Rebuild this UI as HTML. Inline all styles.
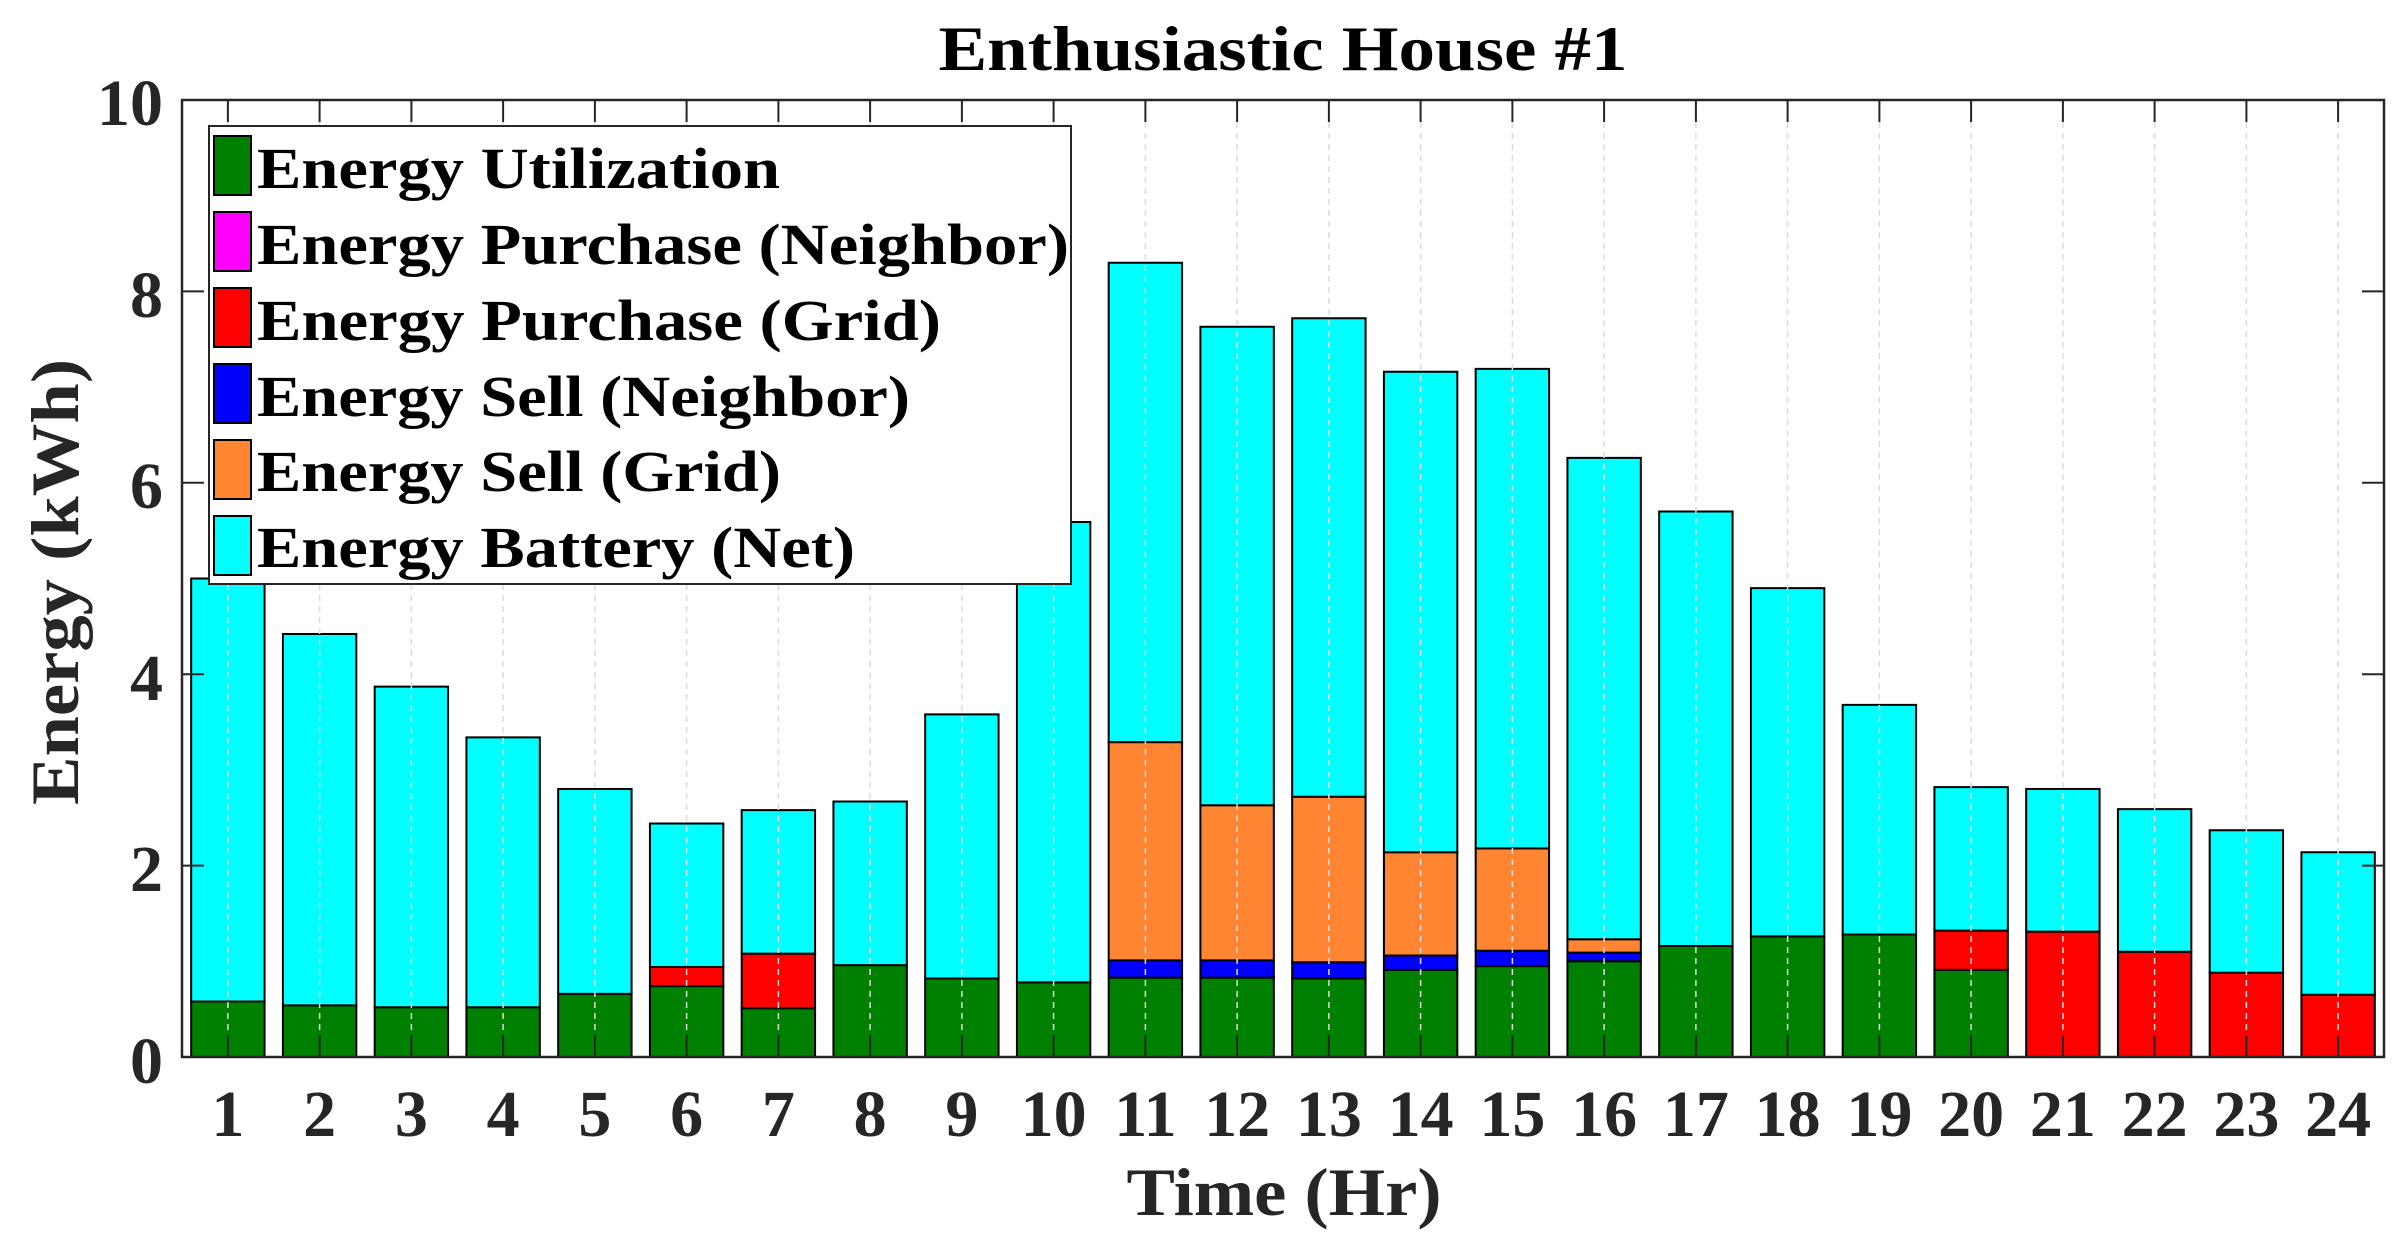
<!DOCTYPE html>
<html><head><meta charset="utf-8"><style>
html,body{margin:0;padding:0;background:#fff;}
svg{display:block;}
text{font-family:"Liberation Serif",serif;font-weight:bold;}
</style></head><body>
<svg width="2405" height="1240" viewBox="0 0 2405 1240" xmlns="http://www.w3.org/2000/svg">
<rect x="0" y="0" width="2405" height="1240" fill="#fff"/>
<g transform="translate(136.125,1057) scale(91.75,-95.7)" stroke="#000" stroke-width="2">
<g vector-effect="non-scaling-stroke">
<!-- green -->
<g fill="#008000">
<rect x="0.6" y="0" width="0.8" height="0.58" vector-effect="non-scaling-stroke"/>
<rect x="1.6" y="0" width="0.8" height="0.54" vector-effect="non-scaling-stroke"/>
<rect x="2.6" y="0" width="0.8" height="0.52" vector-effect="non-scaling-stroke"/>
<rect x="3.6" y="0" width="0.8" height="0.52" vector-effect="non-scaling-stroke"/>
<rect x="4.6" y="0" width="0.8" height="0.66" vector-effect="non-scaling-stroke"/>
<rect x="5.6" y="0" width="0.8" height="0.74" vector-effect="non-scaling-stroke"/>
<rect x="6.6" y="0" width="0.8" height="0.51" vector-effect="non-scaling-stroke"/>
<rect x="7.6" y="0" width="0.8" height="0.96" vector-effect="non-scaling-stroke"/>
<rect x="8.6" y="0" width="0.8" height="0.82" vector-effect="non-scaling-stroke"/>
<rect x="9.6" y="0" width="0.8" height="0.78" vector-effect="non-scaling-stroke"/>
<rect x="10.6" y="0" width="0.8" height="0.83" vector-effect="non-scaling-stroke"/>
<rect x="11.6" y="0" width="0.8" height="0.83" vector-effect="non-scaling-stroke"/>
<rect x="12.6" y="0" width="0.8" height="0.82" vector-effect="non-scaling-stroke"/>
<rect x="13.6" y="0" width="0.8" height="0.91" vector-effect="non-scaling-stroke"/>
<rect x="14.6" y="0" width="0.8" height="0.95" vector-effect="non-scaling-stroke"/>
<rect x="15.6" y="0" width="0.8" height="1.00" vector-effect="non-scaling-stroke"/>
<rect x="16.6" y="0" width="0.8" height="1.16" vector-effect="non-scaling-stroke"/>
<rect x="17.6" y="0" width="0.8" height="1.26" vector-effect="non-scaling-stroke"/>
<rect x="18.6" y="0" width="0.8" height="1.28" vector-effect="non-scaling-stroke"/>
<rect x="19.6" y="0" width="0.8" height="0.91" vector-effect="non-scaling-stroke"/>
</g>
<!-- red -->
<g fill="#ff0000">
<rect x="5.6" y="0.74" width="0.8" height="0.20" vector-effect="non-scaling-stroke"/>
<rect x="6.6" y="0.51" width="0.8" height="0.57" vector-effect="non-scaling-stroke"/>
<rect x="19.6" y="0.91" width="0.8" height="0.41" vector-effect="non-scaling-stroke"/>
<rect x="20.6" y="0" width="0.8" height="1.31" vector-effect="non-scaling-stroke"/>
<rect x="21.6" y="0" width="0.8" height="1.10" vector-effect="non-scaling-stroke"/>
<rect x="22.6" y="0" width="0.8" height="0.88" vector-effect="non-scaling-stroke"/>
<rect x="23.6" y="0" width="0.8" height="0.65" vector-effect="non-scaling-stroke"/>
</g>
<!-- blue -->
<g fill="#0000ff">
<rect x="10.6" y="0.83" width="0.8" height="0.18" vector-effect="non-scaling-stroke"/>
<rect x="11.6" y="0.83" width="0.8" height="0.18" vector-effect="non-scaling-stroke"/>
<rect x="12.6" y="0.82" width="0.8" height="0.17" vector-effect="non-scaling-stroke"/>
<rect x="13.6" y="0.91" width="0.8" height="0.15" vector-effect="non-scaling-stroke"/>
<rect x="14.6" y="0.95" width="0.8" height="0.16" vector-effect="non-scaling-stroke"/>
<rect x="15.6" y="1.00" width="0.8" height="0.09" vector-effect="non-scaling-stroke"/>
</g>
<!-- orange -->
<g fill="#ff8533">
<rect x="10.6" y="1.01" width="0.8" height="2.28" vector-effect="non-scaling-stroke"/>
<rect x="11.6" y="1.01" width="0.8" height="1.62" vector-effect="non-scaling-stroke"/>
<rect x="12.6" y="0.99" width="0.8" height="1.73" vector-effect="non-scaling-stroke"/>
<rect x="13.6" y="1.06" width="0.8" height="1.08" vector-effect="non-scaling-stroke"/>
<rect x="14.6" y="1.11" width="0.8" height="1.07" vector-effect="non-scaling-stroke"/>
<rect x="15.6" y="1.09" width="0.8" height="0.14" vector-effect="non-scaling-stroke"/>
</g>
<!-- cyan -->
<g fill="#00ffff">
<rect x="0.6" y="0.58" width="0.8" height="4.42" vector-effect="non-scaling-stroke"/>
<rect x="1.6" y="0.54" width="0.8" height="3.88" vector-effect="non-scaling-stroke"/>
<rect x="2.6" y="0.52" width="0.8" height="3.35" vector-effect="non-scaling-stroke"/>
<rect x="3.6" y="0.52" width="0.8" height="2.82" vector-effect="non-scaling-stroke"/>
<rect x="4.6" y="0.66" width="0.8" height="2.14" vector-effect="non-scaling-stroke"/>
<rect x="5.6" y="0.94" width="0.8" height="1.50" vector-effect="non-scaling-stroke"/>
<rect x="6.6" y="1.08" width="0.8" height="1.50" vector-effect="non-scaling-stroke"/>
<rect x="7.6" y="0.96" width="0.8" height="1.71" vector-effect="non-scaling-stroke"/>
<rect x="8.6" y="0.82" width="0.8" height="2.76" vector-effect="non-scaling-stroke"/>
<rect x="9.6" y="0.78" width="0.8" height="4.81" vector-effect="non-scaling-stroke"/>
<rect x="10.6" y="3.29" width="0.8" height="5.01" vector-effect="non-scaling-stroke"/>
<rect x="11.6" y="2.63" width="0.8" height="5.00" vector-effect="non-scaling-stroke"/>
<rect x="12.6" y="2.72" width="0.8" height="5.00" vector-effect="non-scaling-stroke"/>
<rect x="13.6" y="2.14" width="0.8" height="5.02" vector-effect="non-scaling-stroke"/>
<rect x="14.6" y="2.18" width="0.8" height="5.01" vector-effect="non-scaling-stroke"/>
<rect x="15.6" y="1.23" width="0.8" height="5.03" vector-effect="non-scaling-stroke"/>
<rect x="16.6" y="1.16" width="0.8" height="4.54" vector-effect="non-scaling-stroke"/>
<rect x="17.6" y="1.26" width="0.8" height="3.64" vector-effect="non-scaling-stroke"/>
<rect x="18.6" y="1.28" width="0.8" height="2.40" vector-effect="non-scaling-stroke"/>
<rect x="19.6" y="1.32" width="0.8" height="1.50" vector-effect="non-scaling-stroke"/>
<rect x="20.6" y="1.31" width="0.8" height="1.49" vector-effect="non-scaling-stroke"/>
<rect x="21.6" y="1.10" width="0.8" height="1.49" vector-effect="non-scaling-stroke"/>
<rect x="22.6" y="0.88" width="0.8" height="1.49" vector-effect="non-scaling-stroke"/>
<rect x="23.6" y="0.65" width="0.8" height="1.49" vector-effect="non-scaling-stroke"/>
</g>
</g>
</g>
<!-- vertical dashed grid -->
<g stroke="#dcdcdc" stroke-width="1.5" stroke-dasharray="6,5">
<path d="M227.9 100V1035M319.6 100V1035M411.4 100V1035M503.1 100V1035M594.9 100V1035M686.6 100V1035M778.4 100V1035M870.1 100V1035M961.9 100V1035M1053.6 100V1035M1145.4 100V1035M1237.1 100V1035M1328.9 100V1035M1420.6 100V1035M1512.4 100V1035M1604.1 100V1035M1695.9 100V1035M1787.6 100V1035M1879.4 100V1035M1971.1 100V1035M2062.9 100V1035M2154.6 100V1035M2246.4 100V1035M2338.1 100V1035"/>
</g>
<!-- ticks -->
<g stroke="#262626" stroke-width="2">
<path d="M227.9 100v22M319.6 100v22M411.4 100v22M503.1 100v22M594.9 100v22M686.6 100v22M778.4 100v22M870.1 100v22M961.9 100v22M1053.6 100v22M1145.4 100v22M1237.1 100v22M1328.9 100v22M1420.6 100v22M1512.4 100v22M1604.1 100v22M1695.9 100v22M1787.6 100v22M1879.4 100v22M1971.1 100v22M2062.9 100v22M2154.6 100v22M2246.4 100v22M2338.1 100v22"/>
<path d="M227.9 1057v-22M319.6 1057v-22M411.4 1057v-22M503.1 1057v-22M594.9 1057v-22M686.6 1057v-22M778.4 1057v-22M870.1 1057v-22M961.9 1057v-22M1053.6 1057v-22M1145.4 1057v-22M1237.1 1057v-22M1328.9 1057v-22M1420.6 1057v-22M1512.4 1057v-22M1604.1 1057v-22M1695.9 1057v-22M1787.6 1057v-22M1879.4 1057v-22M1971.1 1057v-22M2062.9 1057v-22M2154.6 1057v-22M2246.4 1057v-22M2338.1 1057v-22"/>
<path d="M182 865.6h22M182 674.2h22M182 482.8h22M182 291.4h22M2384 865.6h-22M2384 674.2h-22M2384 482.8h-22M2384 291.4h-22"/>
</g>
<rect x="182" y="100" width="2202" height="957" fill="none" stroke="#262626" stroke-width="2.5"/>
<!-- legend -->
<rect x="209" y="126" width="862" height="458" fill="#fff" stroke="#262626" stroke-width="2"/>
<g stroke="#000" stroke-width="2">
<rect x="214" y="136" width="37" height="59" fill="#008000"/>
<rect x="214" y="212" width="37" height="59" fill="#ff00ff"/>
<rect x="214" y="288" width="37" height="59" fill="#ff0000"/>
<rect x="214" y="364" width="37" height="59" fill="#0000ff"/>
<rect x="214" y="440" width="37" height="59" fill="#ff8533"/>
<rect x="214" y="516" width="37" height="59" fill="#00ffff"/>
</g>
<g font-size="58" fill="#000">
<text x="257" y="188" textLength="523" lengthAdjust="spacingAndGlyphs">Energy Utilization</text>
<text x="257" y="264" textLength="812" lengthAdjust="spacingAndGlyphs">Energy Purchase (Neighbor)</text>
<text x="257" y="340" textLength="684" lengthAdjust="spacingAndGlyphs">Energy Purchase (Grid)</text>
<text x="257" y="416" textLength="653" lengthAdjust="spacingAndGlyphs">Energy Sell (Neighbor)</text>
<text x="257" y="491" textLength="524" lengthAdjust="spacingAndGlyphs">Energy Sell (Grid)</text>
<text x="257" y="567" textLength="598" lengthAdjust="spacingAndGlyphs">Energy Battery (Net)</text>
</g>
<!-- y tick labels -->
<g font-size="66" fill="#262626" text-anchor="end">
<text x="163" y="1083">0</text>
<text x="163" y="891">2</text>
<text x="163" y="700">4</text>
<text x="163" y="508">6</text>
<text x="163" y="317">8</text>
<text x="163" y="125">10</text>
</g>
<!-- x tick labels -->
<g font-size="66" fill="#262626" text-anchor="middle">
<text x="227.9" y="1136">1</text><text x="319.6" y="1136">2</text><text x="411.4" y="1136">3</text><text x="503.1" y="1136">4</text><text x="594.9" y="1136">5</text><text x="686.6" y="1136">6</text><text x="778.4" y="1136">7</text><text x="870.1" y="1136">8</text><text x="961.9" y="1136">9</text><text x="1053.6" y="1136">10</text><text x="1145.4" y="1136">11</text><text x="1237.1" y="1136">12</text><text x="1328.9" y="1136">13</text><text x="1420.6" y="1136">14</text><text x="1512.4" y="1136">15</text><text x="1604.1" y="1136">16</text><text x="1695.9" y="1136">17</text><text x="1787.6" y="1136">18</text><text x="1879.4" y="1136">19</text><text x="1971.1" y="1136">20</text><text x="2062.9" y="1136">21</text><text x="2154.6" y="1136">22</text><text x="2246.4" y="1136">23</text><text x="2338.1" y="1136">24</text>
</g>
<text x="1284" y="1215" font-size="68" fill="#262626" text-anchor="middle" textLength="315" lengthAdjust="spacingAndGlyphs">Time (Hr)</text>
<text transform="translate(78,582) rotate(-90)" font-size="68" fill="#262626" text-anchor="middle" textLength="446" lengthAdjust="spacingAndGlyphs">Energy (kWh)</text>
<text x="1283" y="70" font-size="64" fill="#000" text-anchor="middle" textLength="689" lengthAdjust="spacingAndGlyphs">Enthusiastic House #1</text>
</svg>
</body></html>
